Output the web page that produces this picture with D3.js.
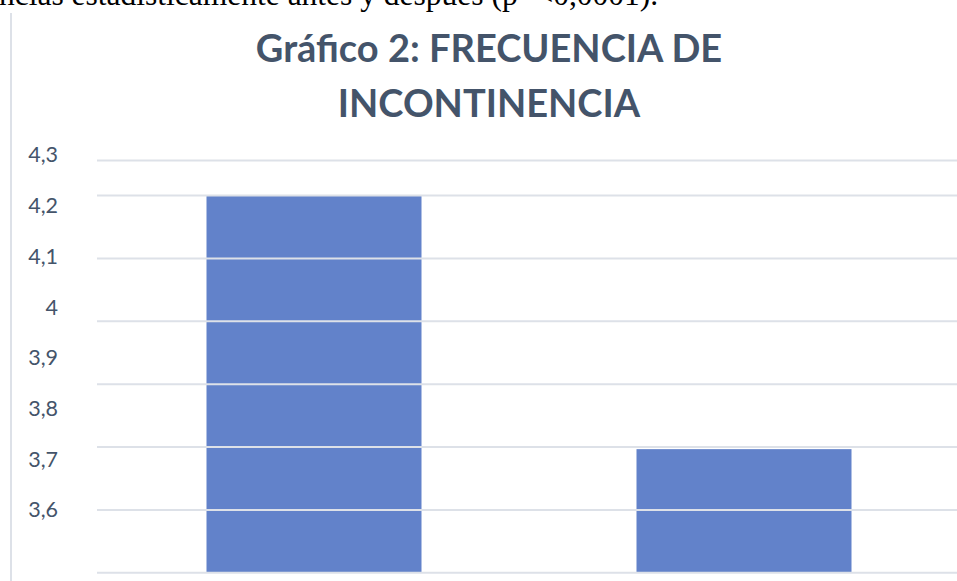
<!DOCTYPE html>
<html>
<head>
<meta charset="utf-8">
<script src="https://cdn.jsdelivr.net/npm/d3@7"></script>
<style>
  body { margin: 0; background: #fff; overflow: hidden; }
  text { font-family: Lato, "Open Sans", sans-serif; }
</style>
</head>
<body>
<script>
// data
let categories = ["Antes", "Después"];
let values = [4.22, 3.72];
let labelTicks = [3.6, 3.7, 3.8, 3.9, 4.0, 4.1, 4.2, 4.3];
let gridTicks = [3.5, 3.6, 3.7, 3.8, 3.9, 4.0, 4.1, 4.2];
let titleLines = ["Gráfico 2: FRECUENCIA DE", "INCONTINENCIA"];
let bodyText = "ncias estadísticamente antes y después (p=<0,0001).";

let width = 957;
let height = 581;
let plotLeft = 97;
let plotRight = 957;
let plotBottom = 572.3;
let gridColor = "#dde1e8";

var svg = d3.select('body').append('svg')
    .attr('width', width)
    .attr('height', height);

// line of document text cut at the top
svg.append('text')
    .attr('x', -1)
    .attr('y', 5)
    .style('font-family', '"Liberation Serif", "Times New Roman", serif')
    .style('font-size', '31.5px')
    .attr('fill', '#000')
    .text(bodyText);

// left edge of the chart frame
svg.append('line')
    .attr('x1', 11).attr('x2', 11)
    .attr('y1', 13).attr('y2', height)
    .attr('stroke', gridColor)
    .attr('stroke-width', 2);

// title
svg.append('g')
    .selectAll('text')
    .data(titleLines)
    .enter()
    .append('text')
    .attr('x', 489)
    .attr('y', (d, i) => 62 + i * 55)
    .attr('text-anchor', 'middle')
    .style('font-size', '38px')
    .style('font-weight', 'bold')
    .attr('fill', '#44546a')
    .text(d => d);

var xScale = d3.scaleBand()
    .domain(categories)
    .range([99, 959])
    .paddingInner(0.5)
    .paddingOuter(0.25);

// value scale the labels sit on
var yScale = d3.scaleLinear()
    .domain([3.6, 4.3])
    .range([510, 155]);

// gridlines of the plot area are spaced differently from the labels
var gridScale = d3.scaleLinear()
    .domain([3.5, 4.1, 4.2])
    .range([plotBottom, 195, 160]);

// bars
svg.append('g')
    .attr('class', 'bars')
    .selectAll('rect')
    .data(values)
    .enter()
    .append('rect')
    .attr('x', (d, i) => xScale(categories[i]))
    .attr('y', d => yScale(d))
    .attr('width', xScale.bandwidth())
    .attr('height', d => plotBottom - yScale(d))
    .attr('fill', '#6282ca');

// gridlines, drawn over the bars like in the picture
var grid = svg.append('g')
    .attr('class', 'grid')
    .attr('transform', 'translate(' + plotLeft + ', 0)')
    .call(d3.axisRight(gridScale)
        .tickValues(gridTicks)
        .tickSize(plotRight - plotLeft)
        .tickFormat(''));
grid.select('.domain').remove();
grid.selectAll('line')
    .attr('stroke', gridColor)
    .attr('stroke-width', 2);

// y labels
var yAxis = svg.append('g')
    .attr('class', 'y axis')
    .attr('transform', 'translate(58, 0)')
    .call(d3.axisLeft(yScale)
        .tickValues(labelTicks)
        .tickSize(0)
        .tickPadding(0)
        .tickFormat(d => String(+d.toFixed(1)).replace('.', ',')));
yAxis.select('.domain').remove();
yAxis.selectAll('text')
    .style('font-family', 'Lato, sans-serif')
    .style('font-size', '21.5px')
    .attr('fill', '#44546a');
</script>
</body>
</html>
